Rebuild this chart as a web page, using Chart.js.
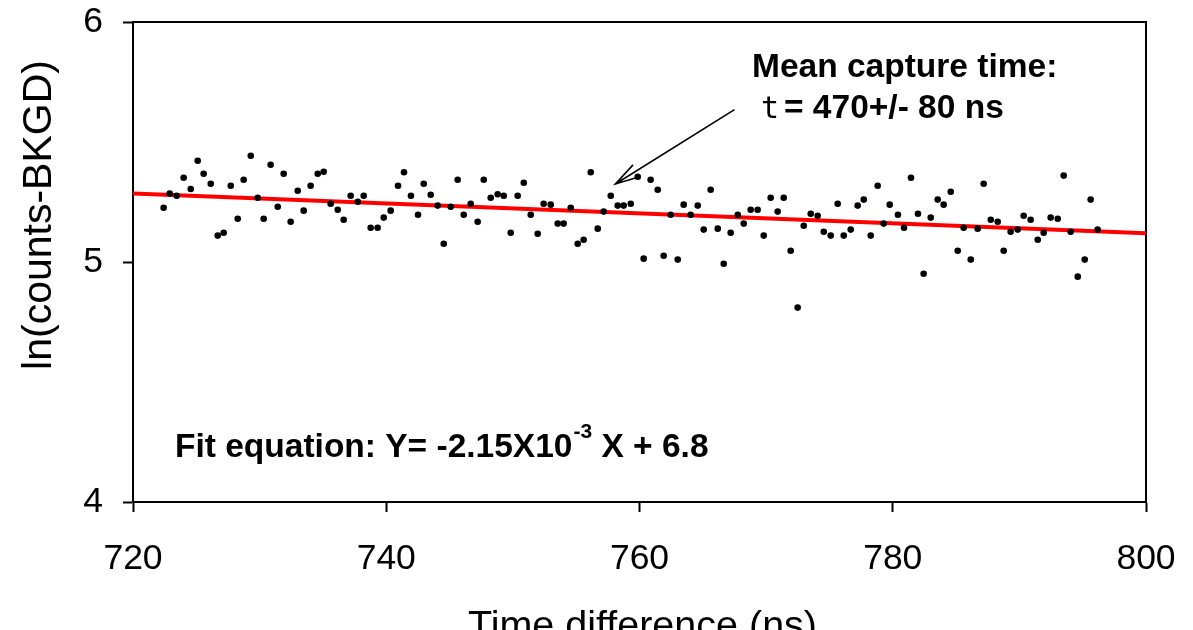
<!DOCTYPE html>
<html>
<head>
<meta charset="utf-8">
<script src="https://cdn.jsdelivr.net/npm/chart.js@4.4.1/dist/chart.umd.min.js"></script>
<style>
  html, body { margin: 0; padding: 0; background: #ffffff; }
  #wrap { width: 1193px; height: 630px; position: relative; }
</style>
</head>
<body>
<div id="wrap"><canvas id="c" width="1193" height="630"></canvas></div>
<script>
// ---- data ----
const timeNs = [
  722.42, 722.90, 723.45, 724.00, 724.56, 725.11, 725.58, 726.14, 726.69, 727.16,
  727.72, 728.27, 728.74, 729.30, 729.85, 730.32, 730.87, 731.43, 731.90, 732.45,
  733.01, 733.48, 734.03, 734.59, 735.06, 735.61, 736.17, 736.64, 737.19, 737.75,
  738.22, 738.77, 739.32, 739.80, 740.35,
  740.93, 741.40, 741.95, 742.51, 742.96, 743.51, 744.06, 744.54, 745.09, 745.64,
  746.12, 746.67, 747.22, 747.70, 748.25, 748.80, 749.28, 749.83, 750.38, 750.86,
  751.41, 751.96, 752.43, 752.99, 753.54, 754.01, 754.57, 755.12, 755.59, 756.15,
  756.70, 757.17, 757.73, 758.28, 758.75, 759.31, 759.86,
  760.33, 760.88, 761.44, 761.91, 762.46, 763.02, 763.49, 764.04, 764.60, 765.07,
  765.62, 766.18, 766.65, 767.20, 767.76, 768.23, 768.78, 769.33, 769.81, 770.36,
  770.91, 771.39, 771.94, 772.49, 772.97, 773.52, 774.07, 774.55, 775.10, 775.65,
  776.13, 776.68, 777.23, 777.71, 778.26, 778.81, 779.28, 779.76,
  780.41, 780.89, 781.44, 781.99, 782.44, 783.00, 783.55, 784.02, 784.58, 785.13,
  785.60, 786.16, 786.71, 787.18, 787.74, 788.29, 788.76, 789.31, 789.87, 790.34,
  790.89, 791.45, 791.92, 792.47, 793.03, 793.50, 794.05, 794.61, 795.16, 795.63, 796.18
];
const lnCounts = [
  5.226, 5.285, 5.276, 5.351, 5.304, 5.422, 5.368, 5.326, 5.110, 5.122,
  5.318, 5.180, 5.343, 5.443, 5.268, 5.180, 5.405, 5.230, 5.368, 5.168,
  5.297, 5.214, 5.318, 5.368, 5.376, 5.243, 5.218, 5.176, 5.276, 5.251,
  5.276, 5.143, 5.143, 5.185, 5.214,
  5.318, 5.374, 5.276, 5.197, 5.326, 5.280, 5.235, 5.076, 5.230, 5.343,
  5.197, 5.243, 5.168, 5.343, 5.268, 5.282, 5.276, 5.122, 5.276, 5.330,
  5.197, 5.118, 5.243, 5.239, 5.160, 5.160, 5.226, 5.076, 5.093, 5.374,
  5.139, 5.210, 5.276, 5.235, 5.235, 5.243, 5.355,
  5.014, 5.343, 5.301, 5.026, 5.197, 5.010, 5.239, 5.197, 5.235, 5.135,
  5.301, 5.139, 4.993, 5.122, 5.197, 5.160, 5.218, 5.218, 5.110, 5.268,
  5.210, 5.268, 5.047, 4.810, 5.151, 5.201, 5.193, 5.126, 5.110, 5.243,
  5.110, 5.135, 5.235, 5.260, 5.110, 5.318, 5.160, 5.239,
  5.197, 5.143, 5.351, 5.201, 4.951, 5.185, 5.260, 5.239, 5.293, 5.047,
  5.143, 5.010, 5.139, 5.326, 5.176, 5.168, 5.047, 5.126, 5.135, 5.193,
  5.176, 5.093, 5.122, 5.185, 5.180, 5.360, 5.126, 4.939, 5.010, 5.260, 5.135
];
const fitX = [720, 800];
const fitY = [5.285, 5.120];
const xTickValues = [720, 740, 760, 780, 800];
const yTickValues = [4, 5, 6];
const xAxisTitle = 'Time difference (ns)';
const yAxisTitle = 'ln(counts-BKGD)';
const meanLine1 = 'Mean capture time:';
const meanSymbol = 't';
const meanLine2 = '= 470+/- 80 ns';
const fitTextMain = 'Fit equation: Y= -2.15X10';
const fitTextSup = '-3';
const fitTextEnd = ' X + 6.8';
const arrowFrom = { x: 767.5, y: 5.635 };
const arrowTo = { x: 758.1, y: 5.325 };

// ---- chart ----
const FONT = '"Liberation Sans", Arial, Helvetica, sans-serif';
const scatterPts = timeNs.map((x, i) => ({ x: x, y: lnCounts[i] }));
const fitPts = fitX.map((x, i) => ({ x: x, y: fitY[i] }));

const overlay = {
  id: 'overlay',
  beforeDatasetsDraw(chart) {
    const { ctx, chartArea: a } = chart;
    ctx.save();
    ctx.strokeStyle = '#000';
    ctx.lineWidth = 2;
    ctx.strokeRect(a.left, a.top, a.right - a.left, a.bottom - a.top);
    ctx.restore();
  },
  afterDraw(chart) {
    const { ctx, chartArea: a } = chart;
    const xs = chart.scales.x, ys = chart.scales.y;
    ctx.save();
    ctx.fillStyle = '#000';
    ctx.textBaseline = 'alphabetic';

    // axis titles
    ctx.textAlign = 'center';
    ctx.font = '39.5px ' + FONT;
    ctx.fillText(xAxisTitle, (a.left + a.right) / 2 + 3, 638);
    ctx.save();
    ctx.translate(51, 215);
    ctx.rotate(-Math.PI / 2);
    ctx.font = '41px ' + FONT;
    ctx.fillText(yAxisTitle, 0, 0);
    ctx.restore();
    ctx.textAlign = 'left';

    // mean capture time annotation
    ctx.font = 'bold 33.5px ' + FONT;
    ctx.fillText(meanLine1, 752, 77);
    ctx.font = '30px "DejaVu Sans Mono", monospace';
    ctx.fillText(meanSymbol, 761, 118);
    ctx.font = 'bold 33.5px ' + FONT;
    ctx.fillText(meanLine2, 784, 118);

    // fit equation
    let x = 175;
    const by = 457;
    ctx.font = 'bold 33.5px ' + FONT;
    ctx.fillText(fitTextMain, x, by);
    x += ctx.measureText(fitTextMain).width + 1;
    ctx.font = 'bold 21px ' + FONT;
    ctx.fillText(fitTextSup, x, by - 19);
    x += ctx.measureText(fitTextSup).width;
    ctx.font = 'bold 33.5px ' + FONT;
    ctx.fillText(fitTextEnd, x, by);

    // arrow
    const x0 = xs.getPixelForValue(arrowFrom.x), y0 = ys.getPixelForValue(arrowFrom.y);
    const x1 = xs.getPixelForValue(arrowTo.x), y1 = ys.getPixelForValue(arrowTo.y);
    ctx.strokeStyle = '#000';
    ctx.lineWidth = 1.6;
    ctx.beginPath();
    ctx.moveTo(x0, y0); ctx.lineTo(x1, y1);
    const ang = Math.atan2(y0 - y1, x0 - x1);
    const hl = 26, ha = 0.27;
    ctx.moveTo(x1 + hl * Math.cos(ang - ha), y1 + hl * Math.sin(ang - ha));
    ctx.lineTo(x1, y1);
    ctx.lineTo(x1 + hl * Math.cos(ang + ha), y1 + hl * Math.sin(ang + ha));
    ctx.stroke();
    ctx.restore();
  }
};

new Chart(document.getElementById('c'), {
  type: 'scatter',
  data: {
    datasets: [
      {
        label: 'data',
        data: scatterPts,
        backgroundColor: '#000',
        borderColor: '#000',
        pointRadius: 3.3,
        pointBorderWidth: 0,
        showLine: false,
        order: 1
      },
      {
        label: 'fit',
        data: fitPts,
        showLine: true,
        borderColor: '#ff0000',
        borderWidth: 4,
        pointRadius: 0,
        fill: false,
        order: 2
      }
    ]
  },
  options: {
    responsive: false,
    animation: false,
    events: [],
    layout: { padding: { top: 22, right: 47, left: 0, bottom: 0 } },
    plugins: { legend: { display: false }, tooltip: { enabled: false }, title: { display: false } },
    scales: {
      x: {
        type: 'linear',
        min: 720, max: 800,
        afterFit(s) { s.height = 128; s.paddingLeft = 0; s.paddingRight = 0; },
        afterBuildTicks(s) { s.ticks = xTickValues.map(v => ({ value: v })); },
        grid: { drawOnChartArea: false, drawTicks: true, tickLength: 10, tickWidth: 2, tickColor: '#000' },
        border: { display: true, color: '#000', width: 2 },
        ticks: { color: '#000', font: { family: FONT, size: 35.5 }, padding: 26, maxRotation: 0 }
      },
      y: {
        type: 'linear',
        min: 4, max: 6,
        afterFit(s) { s.width = 133; s.paddingTop = 0; s.paddingBottom = 0; },
        afterBuildTicks(s) { s.ticks = yTickValues.map(v => ({ value: v })); },
        grid: { drawOnChartArea: false, drawTicks: true, tickLength: 10, tickWidth: 2, tickColor: '#000' },
        border: { display: true, color: '#000', width: 2 },
        ticks: { color: '#000', font: { family: FONT, size: 35.5 }, padding: 20 }
      }
    }
  },
  plugins: [overlay]
});
</script>
</body>
</html>
